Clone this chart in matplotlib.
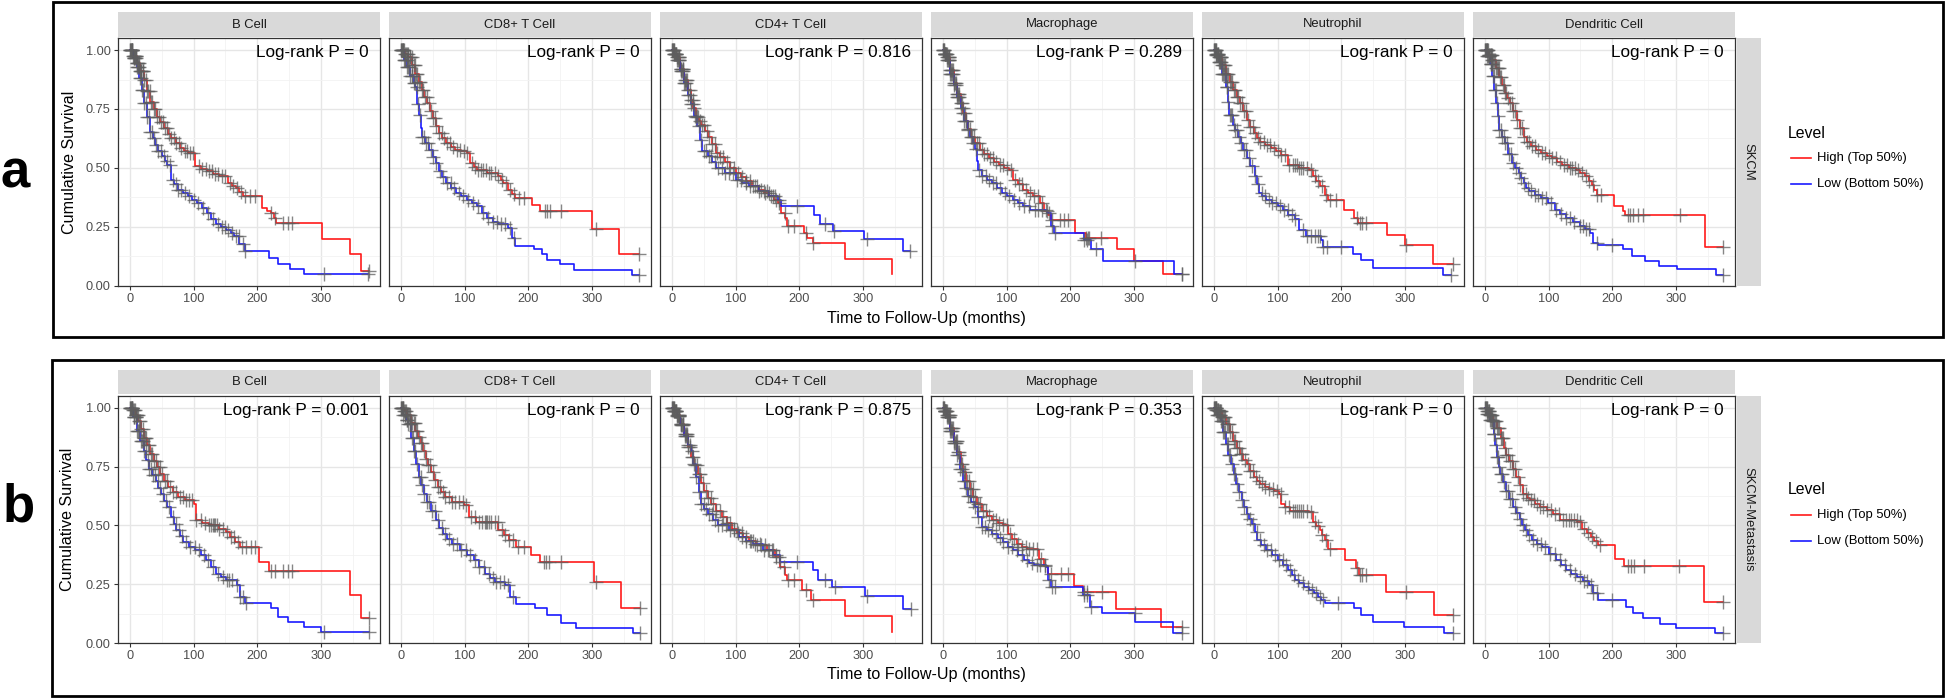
import numpy as np
import matplotlib
matplotlib.use("Agg")
import matplotlib.pyplot as plt
import matplotlib.transforms as mtransforms
from matplotlib.patches import Rectangle
from matplotlib.lines import Line2D

plt.rcParams['font.family'] = ['Liberation Sans', 'DejaVu Sans']

# ---------------- data ----------------
cell_types = ["B Cell", "CD8+ T Cell", "CD4+ T Cell", "Macrophage", "Neutrophil", "Dendritic Cell"]
cohorts = ["SKCM", "SKCM-Metastasis"]
panel_letters = ["a", "b"]
pvals_skcm = ["0", "0", "0.816", "0.289", "0", "0"]
pvals_met = ["0.001", "0", "0.875", "0.353", "0", "0"]
legend_title = "Level"
legend_labels = ["High (Top 50%)", "Low (Bottom 50%)"]
x_ticks = [0, 100, 200, 300]
x_minor = [50, 150, 250, 350]
y_ticks = [0.0, 0.25, 0.5, 0.75, 1.0]
y_minor = [0.125, 0.375, 0.625, 0.875]
y_tick_labels = ["0.00", "0.25", "0.50", "0.75", "1.00"]
x_label = "Time to Follow-Up (months)"
y_label = "Cumulative Survival"

# Kaplan-Meier knots (time in months, survival) -- SKCM
skcm_bcell_high = [(0,1.0),(5,0.975),(11,0.944),(16,0.91),(22,0.873),(27,0.825),(32,0.78),(38,0.748),(43,0.718),(48,0.693),(54,0.669),(60,0.645),(65,0.626),(72,0.605),(78,0.584),(85,0.572),(92,0.563),(103,0.506),(112,0.495),(121,0.485),(130,0.476),(140,0.467),(154,0.436),(160,0.425),(167,0.415),(172,0.398),(178,0.382),(207,0.33),(215,0.318),(221,0.31),(226,0.288),(229,0.267),(302,0.20),(345,0.133),(362,0.063),(375,0.063)]
skcm_bcell_low = [(0,1.0),(5,0.965),(11,0.93),(15,0.88),(19,0.83),(23,0.775),(27,0.718),(32,0.654),(36,0.625),(40,0.598),(45,0.572),(51,0.549),(55,0.531),(59,0.513),(65,0.45),(70,0.43),(75,0.408),(83,0.392),(92,0.379),(98,0.365),(105,0.351),(113,0.33),(121,0.309),(128,0.285),(135,0.26),(143,0.25),(151,0.238),(158,0.224),(164,0.21),(172,0.175),(181,0.147),(219,0.118),(232,0.094),(251,0.072),(273,0.049),(374,0.049)]
skcm_cd8_high = [(0,1.0),(6,0.985),(12,0.97),(18,0.935),(23,0.90),(28,0.865),(33,0.83),(37,0.80),(41.5,0.774),(46,0.74),(50,0.71),(55,0.678),(60,0.647),(65,0.625),(71,0.605),(78,0.59),(85,0.577),(95,0.57),(103.5,0.563),(109,0.52),(115,0.505),(120,0.492),(136,0.478),(152,0.464),(157,0.45),(161,0.436),(168,0.408),(174,0.39),(179,0.372),(206,0.344),(219,0.316),(300,0.241),(343,0.135),(374,0.135)]
skcm_cd8_low = [(0,1.0),(5,0.96),(10,0.93),(15,0.89),(20,0.86),(23,0.845),(26,0.77),(28,0.725),(31,0.67),(33,0.633),(38,0.605),(44,0.577),(50,0.548),(55,0.52),(60,0.485),(65,0.46),(71,0.436),(79,0.415),(87,0.394),(95,0.38),(103.5,0.365),(112,0.35),(120,0.337),(128,0.31),(136,0.288),(144,0.272),(152,0.26),(168,0.245),(174,0.203),(179,0.168),(209,0.154),(222,0.133),(230,0.111),(249,0.09),(271,0.065),(362,0.045),(373,0.045)]
skcm_cd4_high = [(0,1.0),(4,0.985),(8,0.97),(13,0.92),(19,0.873),(25,0.83),(30,0.79),(34,0.755),(38,0.718),(42,0.70),(46,0.683),(52,0.655),(57,0.633),(63,0.60),(70,0.563),(76,0.545),(83,0.527),(91,0.50),(100,0.478),(108,0.46),(116,0.443),(126,0.425),(137,0.408),(145,0.393),(153,0.379),(160,0.365),(167,0.351),(172,0.309),(178,0.288),(180,0.252),(207,0.225),(212,0.203),(221,0.182),(272,0.114),(346,0.049)]
skcm_cd4_low = [(0,1.0),(4,0.985),(8,0.96),(13,0.91),(19,0.86),(25,0.81),(30,0.77),(35,0.72),(40,0.676),(44,0.62),(48,0.57),(57,0.549),(63,0.525),(70,0.50),(83,0.478),(100,0.45),(110,0.435),(121,0.422),(137,0.40),(153,0.38),(167,0.365),(172,0.337),(223,0.302),(232,0.26),(253,0.234),(301,0.20),(362,0.147),(374,0.147)]
skcm_macro_high = [(0,1.0),(3,0.985),(6.5,0.97),(12,0.915),(17,0.86),(22,0.815),(28,0.774),(32,0.735),(36,0.697),(40,0.665),(45,0.633),(51,0.605),(58,0.577),(65,0.558),(72,0.542),(80,0.527),(88,0.513),(96,0.50),(104,0.492),(110,0.45),(118,0.43),(126,0.408),(134,0.393),(142,0.38),(153,0.351),(159,0.316),(165,0.298),(170,0.28),(208,0.224),(224,0.203),(273,0.154),(300,0.104),(346,0.048),(376,0.048)]
skcm_macro_low = [(0,1.0),(3,0.985),(6,0.96),(12,0.90),(17,0.85),(22,0.80),(28,0.755),(34,0.70),(39,0.661),(43,0.63),(47,0.605),(50,0.58),(53,0.53),(56,0.492),(61,0.464),(69,0.45),(77,0.436),(85,0.415),(93,0.394),(101,0.38),(110,0.365),(118,0.35),(126,0.337),(137,0.323),(164,0.309),(170,0.252),(175,0.224),(221,0.196),(232,0.154),(251,0.104),(362,0.048),(376,0.048)]
skcm_neut_high = [(0,1.0),(4,0.985),(8,0.97),(13,0.935),(19,0.90),(25,0.865),(30,0.83),(36,0.80),(41,0.774),(46,0.74),(52,0.704),(57,0.675),(62.5,0.647),(68,0.628),(73,0.612),(81,0.598),(90,0.584),(98,0.57),(106,0.556),(117,0.513),(133,0.50),(149,0.492),(155,0.464),(160,0.443),(166,0.422),(174,0.386),(179,0.365),(205,0.323),(220,0.288),(225.5,0.267),(271,0.217),(300,0.171),(343.5,0.09),(375,0.09)]
skcm_neut_low = [(0,1.0),(4,0.98),(8,0.95),(13,0.90),(19,0.845),(22,0.78),(24.5,0.725),(30,0.683),(34,0.66),(38,0.633),(42,0.605),(46,0.577),(52,0.54),(57,0.506),(65,0.464),(68,0.43),(71,0.394),(76,0.38),(81.5,0.365),(91,0.35),(100.5,0.337),(109,0.32),(117,0.302),(128,0.281),(133,0.238),(144,0.21),(168.5,0.196),(171,0.165),(219,0.133),(231,0.111),(250,0.076),(360,0.046),(372,0.046)]
skcm_dc_high = [(0,1.0),(6,0.98),(12,0.958),(17,0.925),(23,0.887),(27,0.85),(31,0.817),(35,0.795),(39,0.774),(44,0.74),(50,0.704),(55,0.67),(61,0.633),(66,0.61),(72,0.591),(80,0.575),(88.5,0.563),(97,0.552),(105,0.542),(113,0.527),(121,0.513),(132,0.50),(143,0.492),(150,0.478),(157,0.464),(163,0.445),(168,0.429),(172,0.405),(176,0.386),(203,0.337),(217,0.316),(220,0.302),(345,0.165),(374,0.165)]
skcm_dc_low = [(0,1.0),(4,0.975),(8,0.94),(12,0.89),(15,0.83),(17.5,0.774),(20,0.72),(23,0.661),(27,0.63),(31,0.605),(36,0.56),(42,0.52),(47,0.50),(53,0.478),(57,0.457),(61,0.436),(65,0.415),(69,0.40),(78,0.385),(88.5,0.372),(99,0.35),(110,0.323),(118,0.305),(127,0.288),(138,0.27),(149,0.252),(157,0.24),(165,0.224),(170.5,0.182),(178,0.172),(217,0.154),(231,0.126),(251,0.104),(273,0.085),(302,0.069),(363,0.045),(373,0.045)]

# Kaplan-Meier knots -- SKCM-Metastasis
met_bcell_high = [(0,1.0),(5,0.99),(9,0.97),(13.5,0.944),(18,0.91),(21.6,0.873),(27,0.84),(32,0.803),(38,0.775),(43,0.747),(48,0.72),(54,0.69),(60,0.665),(67.5,0.641),(76,0.622),(86.5,0.606),(100,0.592),(104,0.521),(114,0.51),(124,0.50),(140,0.485),(151,0.472),(157,0.45),(165,0.43),(173,0.408),(203,0.343),(219,0.308),(345.5,0.204),(363,0.105),(376,0.105)]
met_bcell_low = [(0,1.0),(5,0.96),(11,0.90),(16,0.86),(21.6,0.817),(26,0.78),(30,0.74),(35,0.715),(40.5,0.69),(45,0.66),(48.6,0.634),(54,0.605),(59,0.578),(65,0.535),(69,0.505),(73,0.479),(78,0.455),(84,0.43),(93,0.41),(103,0.394),(111,0.373),(119,0.352),(127,0.322),(135,0.295),(143,0.28),(151,0.267),(167.5,0.246),(173,0.197),(181,0.171),(221.6,0.147),(232,0.112),(248.6,0.09),(273,0.07),(300,0.046),(376,0.046)]
met_cd8_high = [(0,1.0),(5,0.985),(9,0.97),(16,0.935),(23,0.90),(27,0.875),(31,0.852),(35,0.815),(39,0.782),(43,0.755),(47,0.726),(52,0.695),(58,0.662),(63,0.64),(69,0.62),(80,0.599),(99,0.585),(107,0.535),(118,0.514),(153,0.479),(162,0.458),(170,0.437),(180,0.408),(205,0.373),(218,0.345),(303,0.26),(346,0.147),(376,0.147)]
met_cd8_low = [(0,1.0),(4,0.97),(8,0.95),(12,0.93),(16,0.87),(20,0.817),(24,0.76),(28,0.704),(32,0.67),(36,0.634),(41,0.60),(47,0.563),(55,0.521),(60,0.49),(66,0.465),(73,0.44),(80,0.422),(93.5,0.394),(104,0.372),(115,0.352),(123,0.322),(131.5,0.295),(140,0.275),(148,0.26),(164,0.246),(172,0.197),(180,0.166),(210,0.147),(229,0.119),(251,0.084),(275.5,0.063),(365,0.044),(376,0.044)]
met_cd4_high = [(0,1.0),(4,0.985),(8,0.97),(13,0.93),(19,0.887),(25,0.835),(30,0.79),(35,0.755),(40.5,0.718),(46,0.68),(51,0.648),(57,0.615),(62,0.592),(70,0.562),(78,0.535),(86,0.51),(94.6,0.486),(103,0.467),(111,0.45),(121,0.432),(132,0.415),(149,0.394),(162,0.366),(170,0.324),(178,0.289),(181,0.267),(205,0.225),(219,0.183),(272,0.115),(345,0.046)]
met_cd4_low = [(0,1.0),(4,0.985),(8,0.965),(13,0.925),(19,0.88),(25,0.84),(30,0.817),(34,0.76),(38,0.704),(42,0.64),(46,0.592),(51,0.57),(57,0.55),(65,0.525),(73,0.50),(89,0.479),(105,0.45),(116,0.435),(127,0.422),(143,0.394),(159,0.373),(170,0.345),(221.6,0.31),(230,0.267),(251,0.239),(302.7,0.20),(362,0.143),(375,0.143)]
met_macro_high = [(0,1.0),(3,0.985),(6.5,0.97),(12,0.915),(17.5,0.86),(23,0.81),(28,0.76),(32,0.725),(36.6,0.69),(42,0.655),(47.5,0.62),(54,0.59),(61,0.563),(69,0.54),(77.6,0.521),(86,0.51),(94,0.50),(102,0.465),(109,0.443),(116,0.422),(124,0.41),(132,0.401),(148.6,0.394),(151,0.359),(158,0.327),(165,0.295),(206,0.241),(219.7,0.218),(271.6,0.143),(342.6,0.07),(375,0.07)]
met_macro_low = [(0,1.0),(3,0.985),(6,0.96),(12,0.90),(17,0.85),(22,0.80),(27,0.74),(31,0.69),(35,0.66),(39,0.627),(44,0.60),(50,0.578),(55,0.535),(61,0.493),(69,0.48),(77.6,0.465),(86,0.447),(94,0.43),(102,0.41),(110,0.394),(118,0.373),(127,0.352),(135,0.34),(143,0.331),(162,0.324),(165,0.267),(170.5,0.239),(219.7,0.204),(230.6,0.154),(249.7,0.126),(301.6,0.09),(361.7,0.044),(375,0.044)]
met_neut_high = [(0,1.0),(4,0.99),(8,0.985),(13,0.96),(19,0.93),(25,0.895),(30,0.86),(36,0.83),(41,0.803),(46,0.78),(51.6,0.76),(57,0.73),(62.5,0.704),(68,0.69),(73,0.676),(80,0.665),(87,0.655),(95,0.645),(103,0.634),(106,0.592),(112,0.577),(119.5,0.563),(149.5,0.556),(155,0.514),(160,0.497),(166,0.479),(170,0.458),(174,0.437),(179,0.401),(206.5,0.352),(223,0.317),(228,0.288),(270.6,0.218),(345,0.119),(375,0.119)]
met_neut_low = [(0,1.0),(5,0.97),(11,0.944),(15,0.895),(19,0.845),(23,0.80),(27,0.76),(31,0.718),(35,0.676),(39,0.64),(43.5,0.606),(47,0.578),(51.6,0.55),(56,0.528),(60,0.507),(64,0.47),(68,0.437),(74,0.415),(81.5,0.394),(91,0.373),(100.5,0.352),(109,0.33),(117,0.31),(123,0.288),(128,0.267),(134,0.253),(141,0.239),(149,0.225),(157.6,0.211),(163,0.197),(168.5,0.183),(174,0.171),(220,0.147),(231,0.119),(250,0.09),(299,0.07),(361,0.044),(375,0.044)]
met_dc_high = [(0,1.0),(4,0.985),(8,0.97),(13,0.945),(19,0.915),(25,0.87),(30,0.831),(34,0.80),(38,0.775),(44,0.74),(49,0.704),(55,0.67),(60,0.634),(66,0.618),(71,0.606),(79,0.592),(87,0.578),(97,0.564),(106.5,0.55),(117.5,0.521),(145,0.514),(153,0.486),(160,0.468),(166.7,0.45),(172,0.432),(177.6,0.415),(205,0.359),(218.6,0.327),(344,0.176),(374,0.176)]
met_dc_low = [(0,1.0),(4,0.975),(8,0.95),(13.7,0.887),(16,0.84),(19,0.789),(22,0.75),(24.6,0.718),(28,0.685),(32.8,0.648),(38,0.612),(43.7,0.578),(49,0.553),(54.6,0.528),(58,0.503),(62.8,0.479),(68,0.458),(73.8,0.437),(82,0.422),(90,0.408),(101,0.38),(112,0.352),(120,0.33),(128,0.31),(136,0.295),(145,0.281),(154,0.263),(164,0.246),(169.4,0.211),(177.6,0.183),(221,0.154),(232,0.126),(248.6,0.105),(275,0.08),(300.5,0.063),(360.7,0.044),(373,0.044)]

# censoring times (months)
skcm_bcell_high_cens = [1,2,3,4,5,6,7,8,9,10,11,12,13,14,16,17,18,20,21,23,25,27,29,31,33,35,38,40,43,46,49,52,55,58,62,65,69,73,77,81,86,90,95,99,108,114,119,124,129,134,139,144,150,157,162,168,174,180,188,196,222,228,240,248,254,375]
skcm_bcell_low_cens = [1,2,3,4,6,7,8,10,11,13,14,16,18,19,21,23,25,27,30,32,35,38,41,45,49,53,58,63,68,72,76,81,87,93,100,107,115,122,130,138,144,150,154,160,167,171,177,181,305,374]
skcm_cd8_high_cens = [1,2,3,4,5,7,8,9,11,12,14,15,17,18,20,22,24,26,28,30,33,35,38,41,44,47,50,53,56,60,64,68,72,77,82,88,93,99,104,111,116,121,126,129,133,138,142,147,153,159,165,171,177,185,194,226,230,234,252,306,374]
skcm_cd8_low_cens = [1,2,3,5,6,7,9,10,12,13,15,17,18,20,22,25,27,30,33,36,39,43,47,51,56,61,66,72,78,84,91,98,106,113,121,129,137,145,151,157,163,171,177,374]
skcm_cd4_high_cens = [1,2,3,4,5,6,7,8,10,11,12,14,15,17,18,20,22,24,26,28,30,33,35,38,41,44,47,51,55,59,63,67,71,76,81,86,92,98,104,110,116,122,128,134,140,146,152,158,163,168,177,182,192,210,222]
skcm_cd4_low_cens = [1,2,3,4,5,7,8,9,11,12,14,16,17,19,21,23,25,28,30,33,36,39,42,46,50,54,58,62,67,72,78,84,90,96,102,109,116,123,130,137,144,150,156,162,168,196,240,255,306,374]
skcm_macro_high_cens = [1,2,3,4,5,6,7,8,9,10,12,13,14,16,17,19,20,22,24,26,28,30,32,35,37,40,43,46,49,53,57,61,65,69,74,79,84,89,95,101,107,113,119,125,131,137,143,149,155,163,172,184,190,196,224,228,230,248,376]
skcm_macro_low_cens = [1,2,3,4,5,6,8,9,10,12,13,15,16,18,20,22,24,26,28,31,34,37,40,44,48,52,57,62,67,72,78,84,90,97,104,112,120,128,136,144,150,156,162,166,172,176,222,226,240,301,376]
skcm_neut_high_cens = [1,2,3,4,5,6,7,8,9,10,11,12,13,15,16,18,19,21,23,25,27,29,31,33,36,38,41,44,47,50,53,57,61,65,69,73,78,83,88,94,100,106,112,118,124,128,131,134,137,140,146,152,158,164,170,176,182,192,224,229,233,238,302,375]
skcm_neut_low_cens = [1,2,3,4,5,6,8,9,10,11,13,14,16,18,20,21,23,25,27,29,32,34,37,40,43,47,51,55,60,65,70,75,80,86,92,98,104,110,116,122,128,140,146,152,158,163,166,172,178,200,372]
skcm_dc_high_cens = [1,2,3,4,5,6,7,8,9,10,11,12,13,14,16,17,19,20,22,24,26,28,30,32,34,37,39,42,45,48,51,55,58,62,66,70,74,79,84,89,94,100,106,112,118,124,129,133,137,141,146,152,158,164,170,176,182,224,228,232,240,248,306,374]
skcm_dc_low_cens = [1,2,3,4,5,6,7,9,10,11,13,14,16,17,19,21,23,25,27,30,32,35,38,41,45,49,53,57,62,67,72,78,84,90,96,104,112,120,127,134,140,150,154,158,164,176,200,374]

met_bcell_high_cens = [1,2,3,4,5,6,8,9,10,12,13,15,16,18,20,22,24,26,28,30,33,35,38,41,44,47,51,55,59,63,68,73,78,83,88,93,98,104,112,118,124,128,130,132,134,137,140,146,152,158,164,170,176,182,190,196,222,228,240,248,254,376]
met_bcell_low_cens = [1,2,3,4,6,7,9,10,12,13,15,17,19,21,23,25,28,30,33,36,40,44,48,52,57,62,67,72,77,82,88,95,102,109,116,123,130,138,146,152,156,160,168,173,178,182,305,376]
met_cd8_high_cens = [1,2,3,4,5,6,8,9,10,12,13,15,16,18,20,22,24,26,29,31,34,37,40,43,46,50,54,58,62,66,70,75,80,85,91,97,103,110,116,122,128,132,134,136,138,142,147,152,158,164,170,176,184,194,224,228,232,252,306,376]
met_cd8_low_cens = [1,2,3,4,6,7,9,10,12,14,15,17,19,21,23,25,28,31,34,37,41,45,49,54,59,64,70,76,82,88,95,102,109,116,123,130,138,144,150,156,162,168,176,376]
met_cd4_high_cens = [1,2,3,4,5,6,7,8,10,11,12,14,15,17,18,20,22,24,26,28,31,33,36,39,42,45,49,53,57,61,65,70,75,80,86,92,98,104,110,116,122,128,134,140,146,152,158,164,168,176,182,192,210,222]
met_cd4_low_cens = [1,2,3,4,5,7,8,9,11,12,14,16,18,20,22,24,26,29,32,35,38,42,46,50,54,58,63,68,73,79,85,91,97,103,110,117,124,131,138,145,151,157,163,170,196,240,256,306,375]
met_macro_high_cens = [1,2,3,4,5,6,7,8,9,11,12,13,15,16,18,20,22,24,26,28,30,33,35,38,41,44,47,51,55,59,63,68,73,78,83,88,94,100,106,112,118,124,130,136,142,148,154,160,170,186,196,222,226,250,375]
met_macro_low_cens = [1,2,3,4,5,6,8,9,10,12,13,15,17,19,21,23,25,27,30,33,36,39,43,47,51,56,61,66,71,77,83,89,95,102,109,116,124,132,140,147,153,160,166,172,176,222,227,232,301,375]
met_neut_high_cens = [1,2,3,4,5,6,7,8,9,10,12,13,15,16,18,20,22,24,26,28,31,33,36,39,42,45,49,53,57,61,66,71,76,81,87,93,99,105,112,118,124,128,131,134,137,140,146,152,158,164,170,176,182,224,229,233,238,302,375]
met_neut_low_cens = [1,2,3,4,5,6,8,9,10,12,13,15,16,18,20,22,24,26,28,31,34,37,40,44,48,52,57,62,67,72,78,84,90,96,102,108,114,120,126,132,140,148,154,160,166,172,195,375]
met_dc_high_cens = [1,2,3,4,5,6,7,8,9,10,12,13,14,16,17,19,21,23,25,27,29,31,34,36,39,42,45,48,52,56,60,64,68,72,77,82,87,92,98,104,110,116,122,128,132,136,140,144,150,156,162,168,174,180,225,229,234,250,305,374]
met_dc_low_cens = [1,2,3,4,5,7,8,9,11,12,14,15,17,19,21,23,25,27,30,33,36,39,43,47,51,55,60,65,70,76,82,88,95,102,110,118,126,134,142,150,156,160,166,170,176,200,374]

rows_data = [
    [(skcm_bcell_high, skcm_bcell_high_cens, skcm_bcell_low, skcm_bcell_low_cens),
     (skcm_cd8_high, skcm_cd8_high_cens, skcm_cd8_low, skcm_cd8_low_cens),
     (skcm_cd4_high, skcm_cd4_high_cens, skcm_cd4_low, skcm_cd4_low_cens),
     (skcm_macro_high, skcm_macro_high_cens, skcm_macro_low, skcm_macro_low_cens),
     (skcm_neut_high, skcm_neut_high_cens, skcm_neut_low, skcm_neut_low_cens),
     (skcm_dc_high, skcm_dc_high_cens, skcm_dc_low, skcm_dc_low_cens)],
    [(met_bcell_high, met_bcell_high_cens, met_bcell_low, met_bcell_low_cens),
     (met_cd8_high, met_cd8_high_cens, met_cd8_low, met_cd8_low_cens),
     (met_cd4_high, met_cd4_high_cens, met_cd4_low, met_cd4_low_cens),
     (met_macro_high, met_macro_high_cens, met_macro_low, met_macro_low_cens),
     (met_neut_high, met_neut_high_cens, met_neut_low, met_neut_low_cens),
     (met_dc_high, met_dc_high_cens, met_dc_low, met_dc_low_cens)],
]
rows_pvals = [pvals_skcm, pvals_met]

# ---------------- styling / layout ----------------
W, H = 1946, 698
HIGH_COLOR = "#ff1a1a"
LOW_COLOR = "#1a1aff"
CENS_COLOR = "#5e5e5e"
GRID_MAJOR = "#e6e6e6"
GRID_MINOR = "#f2f2f2"
BORDER = "#333333"
STRIP_BG = "#d9d9d9"

fig = plt.figure(figsize=(W / 100, H / 100), dpi=100)
fig.patch.set_facecolor("white")
px = mtransforms.Affine2D().scale(1.0 / W, -1.0 / H).translate(0, 1) + fig.transFigure


def axes_px(l, t, w, h):
    return fig.add_axes([l / W, 1 - (t + h) / H, w / W, h / H])


def km_at(tk, sk, times):
    idx = np.searchsorted(tk, times, side="right") - 1
    idx = np.clip(idx, 0, len(sk) - 1)
    return sk[idx]


panel_w = 262
panel_gap = 271
panel_x0 = 118
row_geom = [
    dict(strip_top=12.3, panel_top=38.3, panel_bot=285.7, box=(52.7, 1.7, 1943.3, 337.0),
         letter_xy=(15.5, 187), ylab_x=70, xlab_y=318, leg_y=133),
    dict(strip_top=370.0, panel_top=396.0, panel_bot=643.0, box=(51.7, 360.0, 1943.3, 695.5),
         letter_xy=(19, 522), ylab_x=68, xlab_y=675, leg_y=490),
]

for r in range(2):
    g = row_geom[r]
    ph = g["panel_bot"] - g["panel_top"]
    for i in range(6):
        left = panel_x0 + panel_gap * i
        ax = axes_px(left, g["panel_top"], panel_w, ph)
        ax.set_xlim(-18.5, 392.5)
        ax.set_ylim(0, 1.05)
        ax.set_xticks(x_ticks)
        ax.set_xticks(x_minor, minor=True)
        ax.set_yticks(y_ticks)
        ax.set_yticks(y_minor, minor=True)
        ax.grid(True, which="major", color=GRID_MAJOR, lw=1.0, zorder=0)
        ax.grid(True, which="minor", color=GRID_MINOR, lw=0.6, zorder=0)
        ax.set_axisbelow(True)
        for sp in ax.spines.values():
            sp.set_color(BORDER)
            sp.set_linewidth(0.9)
        ax.tick_params(axis="both", which="minor", length=0)
        ax.tick_params(axis="x", which="major", length=2.8, width=0.8, color=BORDER,
                       labelsize=9.2, labelcolor="#4d4d4d", pad=2.2)
        ax.set_xticklabels([str(v) for v in x_ticks])
        if i == 0:
            ax.tick_params(axis="y", which="major", length=2.8, width=0.8, color=BORDER,
                           labelsize=9.2, labelcolor="#4d4d4d", pad=2.6)
            ax.set_yticklabels(y_tick_labels)
        else:
            ax.tick_params(axis="y", which="major", length=0, labelleft=False)

        hi, hi_c, lo, lo_c = rows_data[r][i]
        for curve, col in ((hi, HIGH_COLOR), (lo, LOW_COLOR)):
            arr = np.array(curve, dtype=float)
            ax.step(arr[:, 0], arr[:, 1], where="post", color=col, lw=1.2, zorder=3)
        for curve, cens in ((hi, hi_c), (lo, lo_c)):
            arr = np.array(curve, dtype=float)
            ct = np.array(cens, dtype=float)
            cy = km_at(arr[:, 0], arr[:, 1], ct)
            ax.plot(ct, cy, ls="none", marker="+", ms=9.5, mew=1.0,
                    color=CENS_COLOR, alpha=0.75, zorder=4)

        ax.text(375, 0.97, "Log-rank P = " + rows_pvals[r][i], ha="right", va="baseline",
                fontsize=12.3, color="black", zorder=5)

        # top strip
        sax = axes_px(left, g["strip_top"], panel_w, g["panel_top"] - g["strip_top"] - 1.6)
        sax.set_facecolor(STRIP_BG)
        sax.set_xticks([]); sax.set_yticks([])
        for sp in sax.spines.values():
            sp.set_visible(False)
        sax.text(0.5, 0.5, cell_types[i], ha="center", va="center", fontsize=9.4,
                 color="#1a1a1a", transform=sax.transAxes)

    # right strip
    rax = axes_px(panel_x0 + panel_gap * 5 + panel_w + 1.5, g["panel_top"], 24.5, ph)
    rax.set_facecolor(STRIP_BG)
    rax.set_xticks([]); rax.set_yticks([])
    for sp in rax.spines.values():
        sp.set_visible(False)
    rax.text(0.5, 0.5, cohorts[r], ha="center", va="center", rotation=-90, fontsize=9.4,
             color="#1a1a1a", transform=rax.transAxes)

    # axis titles
    fig.text(g["ylab_x"], (g["panel_top"] + g["panel_bot"]) / 2, y_label, rotation=90,
             ha="center", va="center", fontsize=11.6, color="black", transform=px)
    fig.text((panel_x0 + panel_x0 + panel_gap * 5 + panel_w) / 2, g["xlab_y"], x_label,
             ha="center", va="center", fontsize=11.6, color="black", transform=px)

    # legend
    ly = g["leg_y"]
    fig.text(1788, ly, legend_title, ha="left", va="center", fontsize=11.4, color="black",
             transform=px)
    for k, (lab, col) in enumerate(zip(legend_labels, [HIGH_COLOR, LOW_COLOR])):
        yy = ly + 25 + 26 * k
        fig.add_artist(Line2D([1791, 1811], [yy, yy], color=col, lw=1.2, transform=px))
        fig.text(1817, yy, lab, ha="left", va="center", fontsize=9.4, color="black",
                 transform=px)

    # outer box
    x0, y0, x1, y1 = g["box"]
    fig.add_artist(Rectangle((x0, y1), x1 - x0, y0 - y1, fill=False, ec="black", lw=2.0,
                             transform=px))
    # panel letter
    fig.text(g["letter_xy"][0], g["letter_xy"][1], panel_letters[r], ha="center",
             va="baseline", fontsize=38, fontweight="bold", color="black", transform=px)

fig.savefig("out.png", dpi=100, facecolor="white")
